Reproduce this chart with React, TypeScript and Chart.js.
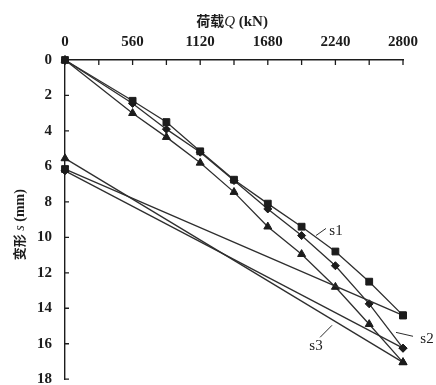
import React, { useEffect, useRef } from "react";
import { Chart, registerables } from "chart.js";

Chart.register(...registerables);

// ---------- data ----------
const loads = [0, 560, 840, 1120, 1400, 1680, 1960, 2240, 2520, 2800];
const s1Loading = [0, 2.3, 3.5, 5.15, 6.75, 8.1, 9.4, 10.8, 12.5, 14.4];
const s2Loading = [0, 2.45, 3.9, 5.2, 6.8, 8.4, 9.9, 11.6, 13.75, 16.25];
const s3Loading = [0, 3.0, 4.35, 5.8, 7.45, 9.4, 10.95, 12.8, 14.9, 17.05];

const unloadLoads = [2800, 0];
const s1Unloading = [14.4, 6.15];
const s2Unloading = [16.25, 6.25];
const s3Unloading = [17.05, 5.55];

const seriesNames = ["s1", "s2", "s3"];
const seriesMarkers = ["rect", "rectRot", "triangle"];
const seriesMarkerSizes = [4.8, 4, 4.6];
// annotation anchors in data units [load, settlement]
const labelAnchors = [
  [2245, 9.62],
  [2999, 15.75],
  [2079, 16.14],
];
const leaderStart = [
  [2079, 9.9],
  [2742, 15.36],
  [2113, 15.64],
];
const leaderEnd = [
  [2162, 9.5],
  [2883, 15.58],
  [2212, 14.96],
];

const xMin = 0;
const xMax = 2800;
const xStep = 280;
const xLabelStep = 560;
const yMin = 0;
const yMax = 18;
const yStep = 2;

const INK = "#1c1c1c";
const LINE = "#2e2e2e";
const SERIF = "'Liberation Serif', 'Times New Roman', serif";
const CJK = "'Noto Sans CJK SC', sans-serif";

if (typeof document !== "undefined") {
  document.body.style.margin = "0";
}

type Part = { text: string; font: string };

function drawParts(ctx: CanvasRenderingContext2D, parts: Part[], cx: number, cy: number) {
  let total = 0;
  const widths = parts.map((p) => {
    ctx.font = p.font;
    const w = ctx.measureText(p.text).width;
    total += w;
    return w;
  });
  let x = cx - total / 2;
  ctx.textBaseline = "alphabetic";
  ctx.textAlign = "left";
  parts.forEach((p, i) => {
    ctx.font = p.font;
    ctx.fillText(p.text, x, cy);
    x += widths[i];
  });
}

const decorPlugin = {
  id: "decor",
  beforeDraw(chart: any) {
    const { ctx, width, height } = chart;
    ctx.save();
    ctx.fillStyle = "#ffffff";
    ctx.fillRect(0, 0, width, height);
    ctx.restore();
  },
  afterDraw(chart: any) {
    const { ctx, chartArea } = chart;
    const xs = chart.scales.x;
    const ys = chart.scales.y;
    ctx.save();
    ctx.strokeStyle = INK;
    ctx.lineWidth = 1.3;
    ctx.beginPath();
    for (let v = xMin; v <= xMax; v += xStep) {
      const px = xs.getPixelForValue(v);
      ctx.moveTo(px, chartArea.top);
      ctx.lineTo(px, chartArea.top + 5);
    }
    for (let v = yMin; v <= yMax; v += yStep) {
      const py = ys.getPixelForValue(v);
      ctx.moveTo(chartArea.left, py);
      ctx.lineTo(chartArea.left + 4, py);
    }
    ctx.stroke();

    // axis titles
    ctx.fillStyle = INK;
    const cxTitle = (chartArea.left + chartArea.right) / 2 - 2;
    drawParts(
      ctx,
      [
        { text: "荷载", font: `bold 14px ${CJK}` },
        { text: "Q", font: `italic 15px ${SERIF}` },
        { text: " (kN)", font: `bold 15px ${SERIF}` },
      ],
      cxTitle,
      26
    );

    ctx.save();
    ctx.translate(24, (chartArea.top + chartArea.bottom) / 2 + 5);
    ctx.rotate(-Math.PI / 2);
    drawParts(
      ctx,
      [
        { text: "变形", font: `bold 13px ${CJK}` },
        { text: " s", font: `italic 14px ${SERIF}` },
        { text: " (mm)", font: `bold 14px ${SERIF}` },
      ],
      0,
      0
    );
    ctx.restore();

    // series labels with leader lines
    ctx.lineWidth = 1;
    ctx.strokeStyle = LINE;
    seriesNames.forEach((name, i) => {
      ctx.beginPath();
      ctx.moveTo(xs.getPixelForValue(leaderStart[i][0]), ys.getPixelForValue(leaderStart[i][1]));
      ctx.lineTo(xs.getPixelForValue(leaderEnd[i][0]), ys.getPixelForValue(leaderEnd[i][1]));
      ctx.stroke();
      ctx.font = `15px ${SERIF}`;
      ctx.textAlign = "center";
      ctx.textBaseline = "middle";
      ctx.fillText(name, xs.getPixelForValue(labelAnchors[i][0]), ys.getPixelForValue(labelAnchors[i][1]));
    });
    ctx.restore();
  },
};

function makeSeries(xv: number[], yv: number[], i: number) {
  return {
    label: seriesNames[i],
    data: xv.map((x, k) => ({ x, y: yv[k] })),
    showLine: true,
    borderColor: LINE,
    borderWidth: 1.3,
    pointStyle: seriesMarkers[i],
    pointRadius: seriesMarkerSizes[i],
    pointBackgroundColor: INK,
    pointBorderColor: INK,
    pointBorderWidth: 1,
    tension: 0,
    clip: false,
  };
}

export default function App() {
  const ref = useRef<HTMLCanvasElement | null>(null);

  useEffect(() => {
    if (!ref.current) return;
    const chart = new Chart(ref.current, {
      type: "scatter",
      data: {
        datasets: [
          makeSeries(unloadLoads, s1Unloading, 0),
          makeSeries(unloadLoads, s2Unloading, 1),
          makeSeries(unloadLoads, s3Unloading, 2),
          makeSeries(loads, s1Loading, 0),
          makeSeries(loads, s2Loading, 1),
          makeSeries(loads, s3Loading, 2),
        ] as any,
      },
      options: {
        responsive: false,
        animation: false,
        devicePixelRatio: 1,
        events: [],
        layout: { padding: { left: 0, right: 33, top: 0, bottom: 5 } },
        plugins: {
          legend: { display: false },
          tooltip: { enabled: false },
          title: { display: false },
        },
        scales: {
          x: {
            type: "linear",
            position: "top",
            min: xMin,
            max: xMax,
            grid: { display: false, drawTicks: false },
            border: { display: true, color: INK, width: 1.4 },
            ticks: {
              stepSize: xStep,
              autoSkip: false,
              maxRotation: 0,
              padding: 9,
              color: INK,
              font: { family: SERIF, size: 15, weight: "bold" },
              callback: (v: any) => (Number(v) % xLabelStep === 0 ? String(v) : ""),
            },
            afterFit: (s: any) => {
              s.height = 60;
              s.paddingLeft = 0;
              s.paddingRight = 0;
            },
          },
          y: {
            type: "linear",
            reverse: true,
            min: yMin,
            max: yMax,
            grid: { display: false, drawTicks: false },
            border: { display: true, color: INK, width: 1.4 },
            ticks: {
              stepSize: yStep,
              autoSkip: false,
              padding: 13,
              color: INK,
              font: { family: SERIF, size: 15, weight: "bold" },
            },
            afterFit: (s: any) => {
              s.width = 65;
              s.paddingTop = 0;
              s.paddingBottom = 0;
            },
          },
        },
      } as any,
      plugins: [decorPlugin],
    });
    return () => chart.destroy();
  }, []);

  return <canvas ref={ref} width={436} height={385} style={{ display: "block" }} />;
}
